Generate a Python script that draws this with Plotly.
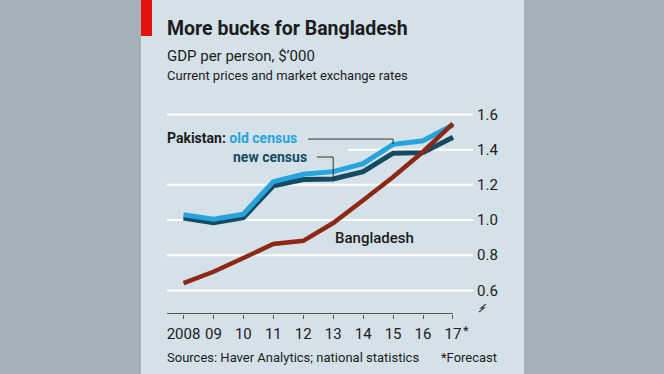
import plotly.graph_objects as go

# ---- data ----
years = [2008, 2009, 2010, 2011, 2012, 2013, 2014, 2015, 2016, 2017]
x_tick_labels = ["2008", "09", "10", "11", "12", "13", "14", "15", "16", "17"]
pakistan_old = [1.030, 1.005, 1.033, 1.218, 1.260, 1.275, 1.320, 1.430, 1.450, 1.540]
pakistan_new = [1.012, 0.985, 1.013, 1.195, 1.230, 1.233, 1.275, 1.380, 1.383, 1.470]
bangladesh = [0.642, 0.706, 0.784, 0.864, 0.882, 0.983, 1.112, 1.244, 1.388, 1.548]
y_ticks = [0.6, 0.8, 1.0, 1.2, 1.4, 1.6]
y_tick_labels = ["0.6", "0.8", "1.0", "1.2", "1.4", "1.6"]

W, H = 664, 374
FONT = "Roboto, sans-serif"
TXT = "#1c1c1c"
LIGHT = "#27a4dc"
DARK = "#144a62"
RED_LINE = "#8c2815"
PANEL = "#d4e1e9"
OUTER = "#a5b0b8"


def px(x):
    return x / W


def py(y):
    return 1 - y / H


X0, X1 = 2007.449, 2017.669
Y0, Y1 = 0.469, 1.682

fig = go.Figure()
fig.add_trace(go.Scatter(x=years, y=pakistan_new, mode="lines",
                         line=dict(color=DARK, width=5), hoverinfo="skip"))
fig.add_trace(go.Scatter(x=years, y=pakistan_old, mode="lines",
                         line=dict(color=LIGHT, width=5), hoverinfo="skip"))
fig.add_trace(go.Scatter(x=years, y=bangladesh, mode="lines",
                         line=dict(color=RED_LINE, width=4.5), hoverinfo="skip"))

shapes = []
# panel and red tag
shapes.append(dict(type="rect", xref="paper", yref="paper", x0=px(141), x1=px(524),
                   y0=0, y1=1, fillcolor=PANEL, line=dict(width=0), layer="below"))
shapes.append(dict(type="rect", xref="paper", yref="paper", x0=px(141), x1=px(152),
                   y0=py(36), y1=1, fillcolor="#e3120b", line=dict(width=0), layer="below"))
# gridlines
for v in y_ticks:
    start = 0.5915 if abs(v - 1.4) < 1e-9 else 0
    shapes.append(dict(type="line", xref="x domain", yref="y", x0=start, x1=1, y0=v, y1=v,
                       line=dict(color="white", width=2), layer="below"))
# x axis line
shapes.append(dict(type="line", xref="x", yref="y domain", x0=X0, x1=2017, y0=0, y1=0,
                   line=dict(color="#555555", width=1)))
# leader lines
shapes.append(dict(type="path", xref="x", yref="y",
                   path="M 2012.16,1.46 L 2015,1.46 L 2015,1.432",
                   line=dict(color="#333333", width=1)))
shapes.append(dict(type="path", xref="x", yref="y",
                   path="M 2012.46,1.358 L 2013,1.358 L 2013,1.228",
                   line=dict(color="#333333", width=1)))
# axis break mark
shapes.append(dict(type="path", xref="paper", yref="paper",
                   path=f"M {px(479)},{py(312)} L {px(484)},{py(308)} L {px(481)},{py(308)} L {px(486)},{py(304)}",
                   line=dict(color="#444444", width=1.3)))

ann = []


def add_text(x, y, text, size, color=TXT, xanchor="left", weight=None):
    f = dict(family=FONT, size=size, color=color)
    if weight:
        f["weight"] = weight
    ann.append(dict(x=px(x), y=py(y), xref="paper", yref="paper", text=text,
                    showarrow=False, xanchor=xanchor, yanchor="middle", font=f))


add_text(165, 29, "<b>More bucks for Bangladesh</b>", 19.5)
add_text(165, 56, "GDP per person, $’000", 15)
add_text(165, 75, "Current prices and market exchange rates", 13)
add_text(165, 138, f"<b>Pakistan:</b> <b><span style='color:{LIGHT}'>old census</span></b>", 14)
add_text(309, 157, "<b>new census</b>", 14, color=DARK, xanchor="right")
add_text(333, 238, "Bangladesh", 15, weight=500)
add_text(461, 330, "*", 13)
add_text(165, 357, "Sources: Haver Analytics; national statistics", 13)
add_text(499, 357, "*Forecast", 13, xanchor="right")

fig.update_layout(
    width=W, height=H,
    margin=dict(l=0, r=0, t=0, b=0),
    paper_bgcolor=OUTER, plot_bgcolor="rgba(0,0,0,0)",
    showlegend=False,
    shapes=shapes, annotations=ann,
    font=dict(family=FONT, color=TXT),
    xaxis=dict(range=[X0, X1], domain=[px(167), px(473)], tickvals=years,
               ticktext=x_tick_labels, ticks="outside", ticklen=4, tickwidth=1,
               tickcolor="#555555", showgrid=False, zeroline=False, showline=False,
               tickfont=dict(size=15, color=TXT, family=FONT), ticklabelstandoff=2,
               fixedrange=True),
    yaxis=dict(range=[Y0, Y1], domain=[1 - 313.5 / H, 1 - 100 / H], side="right",
               tickvals=y_ticks, ticktext=y_tick_labels, ticks="", showgrid=False,
               zeroline=False, showline=False, ticklabelstandoff=3,
               tickfont=dict(size=15, color=TXT, family=FONT), fixedrange=True),
)

fig.write_html("out.html", config={"displayModeBar": False},
               post_script="document.body.style.margin='0';document.body.style.overflow='hidden';")
